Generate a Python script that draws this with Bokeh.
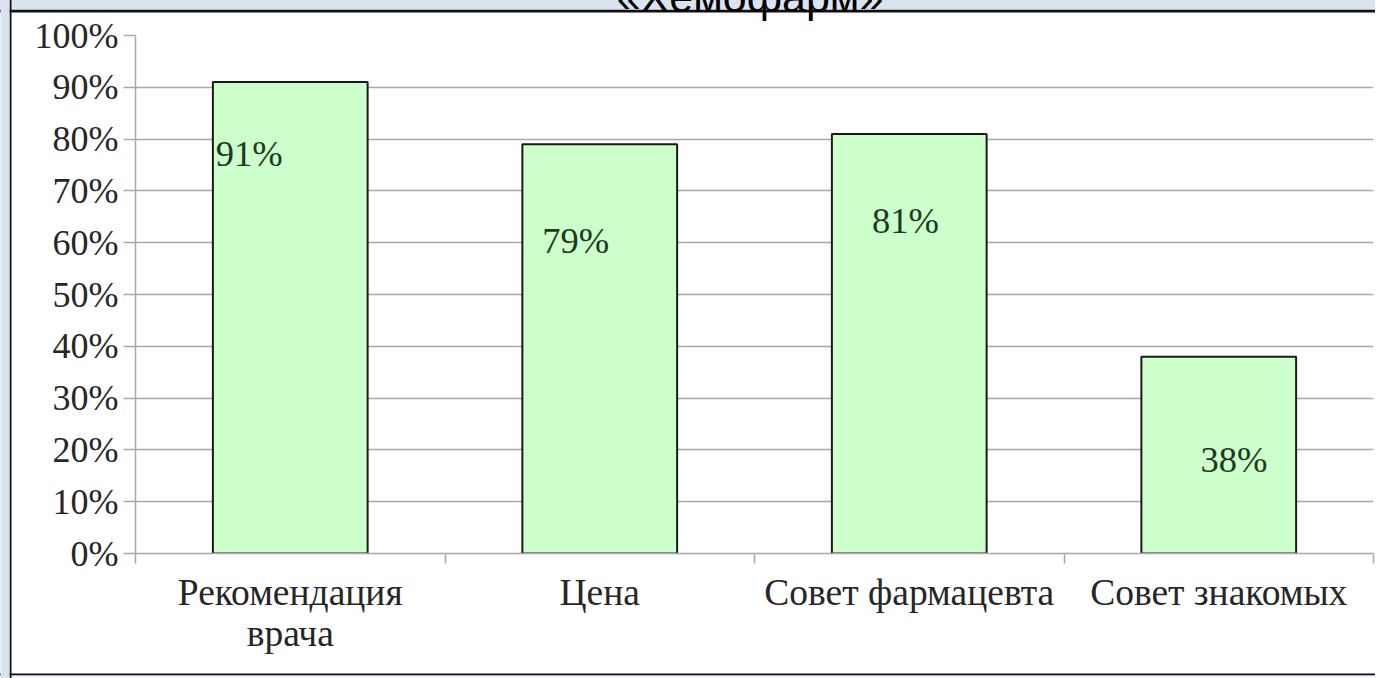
from bokeh.plotting import figure
from bokeh.models import (FixedTicker, PrintfTickFormatter, ColumnDataSource,
                          Range1d, LinearAxis)
from bokeh.embed import file_html
from bokeh.resources import INLINE
from bokeh.core.properties import value

# ---- data ----
title_text = "«Хемофарм»"
categories = ["Рекомендация\nврача", "Цена", "Совет фармацевта", "Совет знакомых"]
shares = [91, 79, 81, 38]
y_ticks = [0, 10, 20, 30, 40, 50, 60, 70, 80, 90, 100]

# label placement (offsets relative to each bar, as in the original)
label_dx = [-0.133, -0.078, -0.012, 0.049]
label_drop = [13.8, 18.6, 16.7, 19.9]

n = len(categories)
xpos = [i + 0.5 for i in range(n)]
src = ColumnDataSource(dict(
    x=xpos,
    top=shares,
    lx=[x + d for x, d in zip(xpos, label_dx)],
    ly=[v - d for v, d in zip(shares, label_drop)],
    txt=[f"{v}%" for v in shares],
))

BG = "#DAE4F0"
GRID = "#A8A8A8"
DARK = "#111111"
SERIF = "Liberation Serif"

M_TOP, M_BOTTOM, M_SIDE = -39, -47, -8
OFFX, OFFY = -M_SIDE, -M_TOP          # canvas px = page px + OFF
W = 1383
H = 678 + OFFY
FL, FR, FT, FB = 135 + OFFX, 1373 + OFFX, 35 + OFFY, 553 + OFFY  # frame edges

p = figure(width=W, height=H,
           x_range=Range1d(0, n), y_range=Range1d(0, 100),
           output_backend="svg", toolbar_location=None,
           min_border_left=FL, min_border_right=W - FR,
           min_border_top=FT, min_border_bottom=H - FB,
           background_fill_color="white", border_fill_color="white",
           outline_line_color=None)
p.margin = (M_TOP, M_SIDE, M_BOTTOM, M_SIDE)

def xd(px):
    return (px - FL) * n / (FR - FL)

# grid
p.xgrid.visible = False
p.ygrid.grid_line_color = GRID
p.ygrid.grid_line_width = 1.5
p.ygrid.ticker = FixedTicker(ticks=y_ticks)

# y axis
yax = p.left[0]
yax.ticker = FixedTicker(ticks=y_ticks)
yax.formatter = PrintfTickFormatter(format="%d%%")
yax.axis_line_color = GRID
yax.axis_line_width = 1.5
yax.major_tick_line_color = GRID
yax.major_tick_line_width = 1.5
yax.major_tick_out = 12
yax.major_tick_in = 0
yax.minor_tick_line_color = None
yax.major_label_standoff = 5
yax.major_label_text_font = SERIF
yax.major_label_text_font_size = "36px"
yax.major_label_text_color = "#262626"

# x axis: labels at centres, tick marks at category boundaries
xax = p.below[0]
xax.ticker = FixedTicker(ticks=xpos, minor_ticks=list(range(n + 1)))
xax.major_label_overrides = {x: c for x, c in zip(xpos, categories)}
xax.axis_line_color = GRID
xax.axis_line_width = 1.5
xax.major_tick_line_color = None
xax.major_tick_out = 0
xax.major_tick_in = 0
xax.minor_tick_line_color = GRID
xax.minor_tick_line_width = 1.5
xax.minor_tick_out = 10
xax.minor_tick_in = 0
xax.major_label_standoff = 8
xax.major_label_text_font = SERIF
xax.major_label_text_font_size = "37.5px"
xax.major_label_text_line_height = 1.0
xax.major_label_text_color = "#262626"

# ---- slide decoration: title, blue top strip and black top frame line ----
# (an axis above the plot: its very wide ticks form the strips)
title_x = xd(749.5 + OFFX)
line_y = FT
blue_bottom = 9 + OFFY
black_bottom = 12 + OFFY
title_bottom = 20 + OFFY
extent = line_y            # blue strip reaches the canvas top
top_ax = LinearAxis(ticker=FixedTicker(ticks=[title_x], minor_ticks=[title_x + 0.01]),
                    major_label_overrides={title_x: title_text},
                    axis_line_color=None,
                    major_tick_line_color=DARK, major_tick_line_width=1700,
                    major_tick_in=black_bottom - line_y,
                    major_tick_out=line_y - blue_bottom,
                    minor_tick_line_color=BG, minor_tick_line_width=1700,
                    minor_tick_in=blue_bottom - line_y,
                    minor_tick_out=extent,
                    major_label_standoff=(line_y - extent) - title_bottom,
                    major_label_text_font="Liberation Sans",
                    major_label_text_font_size="43px",
                    major_label_text_color="black")
p.add_layout(top_ax, "above")

# left blue strip and black frame line (axis left of the y axis)
L2 = FL - 104   # position of this axis' line (y axis takes ~104 px)
left_ax = LinearAxis(ticker=FixedTicker(ticks=[50], minor_ticks=[40]),
                     major_label_overrides={50: ""},
                     major_label_text_font_size="0px",
                     major_label_standoff=0,
                     axis_line_color=None,
                     major_tick_line_color=DARK, major_tick_line_width=1700,
                     major_tick_in=(11 + OFFX) - L2,
                     major_tick_out=L2 - (9 + OFFX),
                     minor_tick_line_color=BG, minor_tick_line_width=1700,
                     minor_tick_in=(9 + OFFX) - L2,
                     minor_tick_out=L2 - OFFX)
p.add_layout(left_ax, "left")

# bottom black frame line and blue strip (axis below the x axis)
L3 = FB + 104   # position of this axis' line (x axis takes ~104 px)
bot_black = (674 + OFFY, 676 + OFFY)
bottom_ax = LinearAxis(ticker=FixedTicker(ticks=[2.0], minor_ticks=[2.01]),
                       major_label_overrides={2.0: ""},
                       major_label_text_font_size="0px",
                       major_label_standoff=0,
                       axis_line_color=None,
                       major_tick_line_color=DARK, major_tick_line_width=1700,
                       major_tick_in=L3 - bot_black[0],
                       major_tick_out=bot_black[1] - L3,
                       minor_tick_line_color=BG, minor_tick_line_width=1700,
                       minor_tick_in=L3 - bot_black[1],
                       minor_tick_out=H - 1 - L3)
p.add_layout(bottom_ax, "below")

# bars
p.vbar(x="x", top="top", bottom=0, width=0.5, source=src,
       fill_color="#CCFFCC", line_color="#1a1a1a", line_width=2)

# value labels
p.text(x="lx", y="ly", text="txt", source=src,
       text_font=value(SERIF), text_font_size="36.5px",
       text_align="center", text_baseline="middle",
       text_color="#1e3a1e")

open("out.html", "w").write(file_html(p, INLINE))
